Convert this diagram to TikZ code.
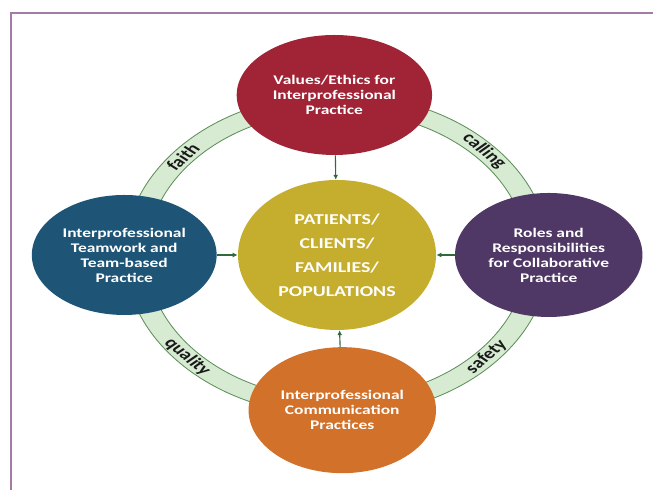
\documentclass[tikz,border=0pt]{standalone}
\usepackage{fontspec}
\setmainfont{Carlito}
\usetikzlibrary{shapes.geometric,arrows.meta}
\definecolor{ringgreen}{HTML}{D6EBD2}
\definecolor{ringline}{HTML}{5F8F5A}
\definecolor{framecol}{HTML}{A27CA4}
\definecolor{valuesred}{HTML}{A02436}
\definecolor{teamblue}{HTML}{1E5577}
\definecolor{rolespurple}{HTML}{4F3865}
\definecolor{commorange}{HTML}{D1712A}
\definecolor{patientgold}{HTML}{C5AD2D}
\definecolor{arrowgreen}{HTML}{2F6A3A}
\tikzset{
  domain/.style={ellipse, fill=#1, text=white, align=center, inner sep=0pt,
    font=\bfseries\fontsize{9.4}{10.7}\selectfont},
  centre/.style={circle, fill=patientgold, text=white, align=center,
    minimum size=3.75cm, inner sep=0pt,
    font=\bfseries\fontsize{10.7}{17}\selectfont},
  ringlabel/.style={font=\bfseries\fontsize{11}{13}\selectfont, text=black!90},
  flow/.style={draw=arrowgreen, line width=0.8pt, -{Latex[length=3.5pt,width=3.5pt]}},
  frameline/.style={draw=framecol, line width=1.4pt}
}
\begin{document}
\begin{tikzpicture}[xscale=1.32, every node/.append style={transform shape}]
      \useasboundingbox (-6.383,-5.875) rectangle (5.985,6.375);
      \draw[frameline] (-6.174,-6) |- (6.1,6.05);
      % ring
      \fill[ringgreen, even odd rule] (0,0) circle (4.02) circle (3.6);
      \draw[ringline, line width=0.6pt] (0,0) circle (4.02) circle (3.6);
      \node[ringlabel, rotate=50] (faith) at (140:3.81) {faith};
      \node[ringlabel, rotate=-47] (calling) at (43:3.81) {calling};
      \node[ringlabel, rotate=-48] (quality) at (222:3.81) {quality};
      \node[ringlabel, rotate=48] (safety) at (318:3.81) {safety};
      % domains
      \node[centre] (patients) at (0,0) {PATIENTS/\\CLIENTS/\\FAMILIES/\\POPULATIONS};
      \node[domain=valuesred, minimum width=3.7cm, minimum height=3cm]
        (values) at (-0.05,4) {Values/Ethics for\\Interprofessional\\Practice};
      \node[domain=teamblue, minimum width=3.5cm, minimum height=3cm]
        (teamwork) at (-4.03,0) {Interprofessional\\Teamwork and\\Team-based\\Practice};
      \node[domain=rolespurple, minimum width=3.55cm, minimum height=3.1cm]
        (roles) at (4.01,0) {Roles and\\Responsibilities\\for Collaborative\\Practice};
      \node[domain=commorange, minimum width=3.55cm, minimum height=3.15cm]
        (communication) at (0.1,-3.88) {Interprofessional\\Communication\\Practices};
      \begin{scope}[flow]
        \draw (values) to (patients);
        \draw (teamwork) to (patients);
        \draw (roles) to (patients);
        \draw (communication) to (patients);
      \end{scope}
    \end{tikzpicture}
\end{document}
